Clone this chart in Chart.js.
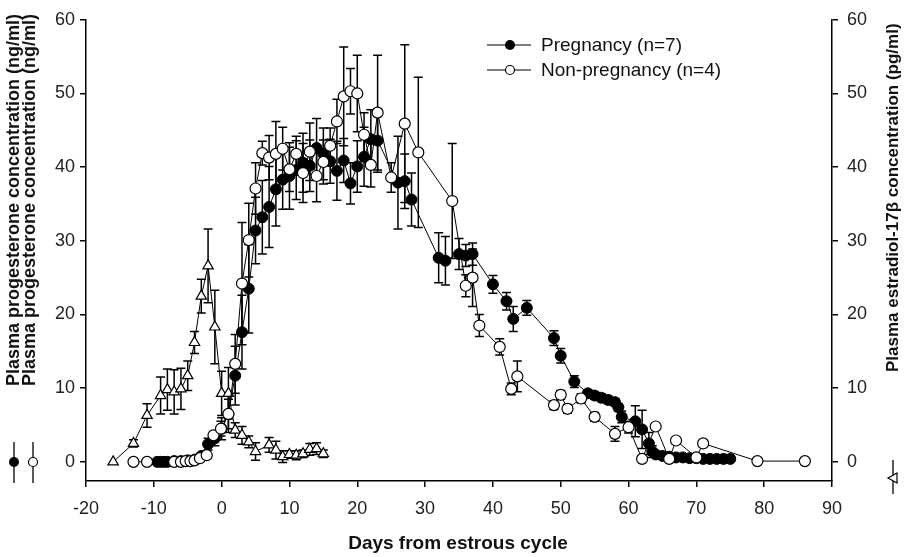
<!DOCTYPE html>
<html>
<head>
<meta charset="utf-8">
<script src="https://cdn.jsdelivr.net/npm/chart.js@4.4.1/dist/chart.umd.min.js"></script>
<style>
  html, body { margin: 0; padding: 0; background: #fff; }
  #wrap { width: 919px; height: 557px; }
</style>
</head>
<body>
<div id="wrap"><canvas id="c" width="919" height="557"></canvas></div>
<script>
// ---------- DATA ----------
const xTicks = [-20, -10, 0, 10, 20, 30, 40, 50, 60, 70, 80, 90];
const yTicks = [0, 10, 20, 30, 40, 50, 60];

const pregDays = [-9.5,-9,-8.5,-8,-7,-6,-5,-4,-3,-2,-1,0,1,2,3,4,5,6,7,8,9,10,11,12,13,14,15,16,17,18,19,20,21,22,23,26,27,28,32,33,35,36,37,40,42,43,45,49,50,52,54,55,56,57,58,58.5,59,61,62,63,63.5,64,65,66,67,68,69,70,71,72,73,74,75];
const pregMean = [0,0,0,0,0.1,0.1,0.2,0.3,0.8,2.4,3.2,4.5,6.5,11.7,17.6,23.5,31.4,33.2,34.6,37.0,38.3,38.8,39.6,40.6,40.2,42.6,41.8,40.8,39.5,40.9,37.8,40.1,41.4,43.8,43.6,37.9,38.1,35.6,27.7,27.3,28.2,28.0,28.2,24.1,21.8,19.4,20.9,16.8,14.4,10.9,9.3,9.0,8.7,8.4,8.1,7.4,6.1,5.5,4.4,2.5,1.4,1.0,0.8,0.7,0.6,0.6,0.5,0.5,0.4,0.4,0.4,0.4,0.4];
const pregSem  = [0,0,0,0,0,0,0,0,0.3,0.8,1,1.5,2.5,4,5,6,4.5,5,5.5,5,4,4.5,4,4,3.5,4,3.5,3,4,3,2.8,3.5,4,4,4.3,6.3,3.7,3.6,3.4,3.3,2.1,1.5,1.5,1.2,1.2,1.7,1,1,1,0.8,0.5,0.5,0.5,0.5,0.5,0.5,0.8,2.1,2.6,1.5,0.8,0.3,0.3,0.3,0.3,0.3,0.3,0.3,0.3,0.3,0.3,0.3,0.3];

const nonDays = [-13,-11,-7,-6,-5.3,-4.6,-4,-3.2,-2.2,-1.2,-0.1,1,2,3,4,5,6,7,8,9,10,11,12,13,14,15,16,17,18,19,20,21,22,23,25,27,29,34,36,37,38,41,42.7,43.6,49,50,51,53,55,58,60,62,64,66,67,70,71,79,86];
const nonMean = [0,0,0,0,0.1,0.1,0.2,0.5,0.9,3.6,4.5,6.5,13.3,24.2,30.1,37.1,41.9,41.3,41.8,42.5,39.7,41.8,39.2,42.1,38.8,40.7,42.9,46.2,49.6,50.3,50.0,44.4,40.3,47.4,38.6,45.9,42.0,35.4,23.9,25.0,18.5,15.6,9.9,11.6,7.7,9.1,7.2,8.6,6.1,3.8,4.7,0.4,4.8,0.4,2.9,0.6,2.5,0.1,0.1];
const nonSem  = [0,0,0,0,0,0,0,0,0,0.5,1,2,4,8.3,5,3.5,1.6,3,4.4,2.9,3,2.4,4,3.9,3.5,3,2.4,3,6.7,3.1,5.2,3,3,7.8,2,10.7,10.2,7.8,1.5,3.9,1.5,1.1,0.8,2.1,0.6,0.6,0.6,0.6,0.6,1.0,0.8,0.3,0.3,0.3,0.3,0.3,0.3,0,0];

const e2Days = [-16,-13,-11,-9,-8,-7,-6,-5,-4,-3,-2,-1,0,1,2,3,4,5,7,8,9,10,11,12,13,14,15];
const e2Mean = [0,2.5,6.3,9.0,9.8,9.5,9.9,11.7,16.2,22.5,26.6,18.3,9.3,9.3,4.3,3.6,2.7,1.4,2.3,1.6,0.7,1.0,0.9,1.1,1.7,1.8,1.1];
const e2Sem  = [0,0.5,1.6,2.5,2.8,3.0,2.8,2.0,1.5,2.3,5,5,3,3.5,1.0,1.2,0.8,1.2,1.0,1.2,0.8,0.5,0.6,0.5,0.8,0.8,0.5];

const legendLabels = ['Pregnancy (n=7)', 'Non-pregnancy (n=4)'];
const leftTitle = 'Plasma progesterone concentration (ng/ml)';
const rightTitle = 'Plasma estradiol-17\u03B2 concentration (pg/ml)';
const xTitle = 'Days from estrous cycle';

// ---------- HELPERS ----------
const pts = (d, v) => d.map((x, i) => ({ x: x, y: v[i] }));
const FONT = '"Liberation Sans", Arial, sans-serif';

const errorBars = {
  id: 'errorBars',
  beforeDatasetsDraw(chart) {
    const ctx = chart.ctx;
    const sems = [pregSem, nonSem, e2Sem];
    ctx.save();
    ctx.strokeStyle = '#000';
    ctx.lineWidth = 1.5;
    chart.data.datasets.forEach((ds, di) => {
      const xs = chart.scales.x;
      const ys = chart.scales[ds.yAxisID];
      ds.data.forEach((p, i) => {
        const s = sems[di][i];
        if (!s) return;
        const px = xs.getPixelForValue(p.x);
        const yt = ys.getPixelForValue(p.y + s);
        const yb = ys.getPixelForValue(p.y - s);
        ctx.beginPath();
        ctx.moveTo(px, yt); ctx.lineTo(px, yb);
        ctx.moveTo(px - 4.5, yt); ctx.lineTo(px + 4.5, yt);
        ctx.moveTo(px - 4.5, yb); ctx.lineTo(px + 4.5, yb);
        ctx.stroke();
      });
    });
    ctx.restore();
  }
};

function marker(ctx, type, x, y) {
  ctx.save();
  ctx.lineWidth = 1.2;
  ctx.strokeStyle = '#000';
  if (type === 'filled') {
    ctx.fillStyle = '#000';
    ctx.beginPath(); ctx.arc(x, y, 5, 0, Math.PI * 2); ctx.fill();
  } else {
    ctx.fillStyle = '#fff';
    ctx.beginPath(); ctx.arc(x, y, 4.5, 0, Math.PI * 2); ctx.fill(); ctx.stroke();
  }
  ctx.restore();
}

const decorations = {
  id: 'decorations',
  afterDraw(chart) {
    const ctx = chart.ctx;
    ctx.save();
    ctx.fillStyle = '#111';
    // Legend
    ctx.font = '19px ' + FONT;
    ctx.textBaseline = 'middle';
    ctx.textAlign = 'left';
    const ly = [45, 70];
    ['filled', 'open'].forEach((t, i) => {
      ctx.strokeStyle = '#000'; ctx.lineWidth = 1;
      ctx.beginPath(); ctx.moveTo(487, ly[i]); ctx.lineTo(531, ly[i]); ctx.stroke();
      marker(ctx, t, 510, ly[i]);
      ctx.fillStyle = '#111';
      ctx.fillText(legendLabels[i], 541, ly[i] + 1);
    });
    // X title
    ctx.font = 'bold 19px ' + FONT;
    ctx.textAlign = 'center';
    ctx.fillText(xTitle, 458, 544);
    // Left titles (two stacked lines)
    ctx.font = 'bold 18px ' + FONT;
    [14, 30].forEach((cx, i) => {
      ctx.save();
      ctx.translate(cx, 386);
      ctx.rotate(-Math.PI / 2);
      ctx.textAlign = 'left';
      ctx.textBaseline = 'middle';
      ctx.fillText(leftTitle, 0, 0);
      ctx.restore();
      ctx.strokeStyle = '#000'; ctx.lineWidth = 1.3;
      const mx = i === 0 ? 14 : 33;
      ctx.beginPath(); ctx.moveTo(mx, 442); ctx.lineTo(mx, 483); ctx.stroke();
      marker(ctx, i === 0 ? 'filled' : 'open', mx, 462);
    });
    // Right title
    ctx.font = 'bold 17px ' + FONT;
    ctx.save();
    ctx.translate(893, 372);
    ctx.rotate(-Math.PI / 2);
    ctx.textAlign = 'left';
    ctx.textBaseline = 'middle';
    ctx.fillText(rightTitle, 0, 0);
    ctx.restore();
    ctx.strokeStyle = '#000'; ctx.lineWidth = 1.3;
    ctx.beginPath(); ctx.moveTo(893, 460); ctx.lineTo(893, 494); ctx.stroke();
    ctx.fillStyle = '#fff'; ctx.lineWidth = 1.2;
    ctx.beginPath(); ctx.moveTo(888, 478); ctx.lineTo(897, 473); ctx.lineTo(897, 483); ctx.closePath();
    ctx.fill(); ctx.stroke();
    ctx.restore();
  }
};

const tickFont = { family: FONT, size: 18 };
const axisCommon = {
  type: 'linear',
  border: { display: true, color: '#000', width: 1.5 },
  grid: { display: true, drawOnChartArea: false, drawTicks: true, tickLength: 6, color: '#000', lineWidth: 1.5 },
};

new Chart(document.getElementById('c'), {
  type: 'scatter',
  data: {
    datasets: [
      {
        label: legendLabels[0], data: pts(pregDays, pregMean), yAxisID: 'y',
        showLine: true, borderColor: '#000', borderWidth: 1,
        pointStyle: 'circle', pointRadius: 5.5, pointBackgroundColor: '#000', pointBorderColor: '#000', pointBorderWidth: 1,
        order: 2
      },
      {
        label: legendLabels[1], data: pts(nonDays, nonMean), yAxisID: 'y',
        showLine: true, borderColor: '#000', borderWidth: 1,
        pointStyle: 'circle', pointRadius: 5.5, pointBackgroundColor: '#fff', pointBorderColor: '#000', pointBorderWidth: 1.2,
        order: 1
      },
      {
        label: 'Estradiol', data: pts(e2Days, e2Mean), yAxisID: 'y2',
        showLine: true, borderColor: '#000', borderWidth: 1,
        pointStyle: 'triangle', pointRadius: 6, pointBackgroundColor: '#fff', pointBorderColor: '#000', pointBorderWidth: 1.2,
        order: 3
      }
    ]
  },
  options: {
    responsive: false,
    devicePixelRatio: 1,
    animation: false,
    events: [],
    layout: { padding: { top: 18, left: 0, right: 0, bottom: 0 } },
    plugins: { legend: { display: false }, tooltip: { enabled: false } },
    scales: {
      x: Object.assign({}, axisCommon, {
        min: -20, max: 90,
        afterBuildTicks: s => { s.ticks = xTicks.map(v => ({ value: v })); },
        afterFit: s => { s.height = 76; },
        ticks: { font: tickFont, color: '#222', padding: 11, maxRotation: 0, autoSkip: false }
      }),
      y: Object.assign({}, axisCommon, {
        position: 'left', min: -2.6, max: 60,
        afterBuildTicks: s => { s.ticks = yTicks.map(v => ({ value: v })); },
        afterFit: s => { s.width = 86; },
        ticks: { font: tickFont, color: '#222', padding: 5 }
      }),
      y2: Object.assign({}, axisCommon, {
        position: 'right', min: -2.6, max: 60,
        afterBuildTicks: s => { s.ticks = yTicks.map(v => ({ value: v })); },
        afterFit: s => { s.width = 87; },
        ticks: { font: tickFont, color: '#222', padding: 9 }
      })
    }
  },
  plugins: [errorBars, decorations]
});
</script>
</body>
</html>
